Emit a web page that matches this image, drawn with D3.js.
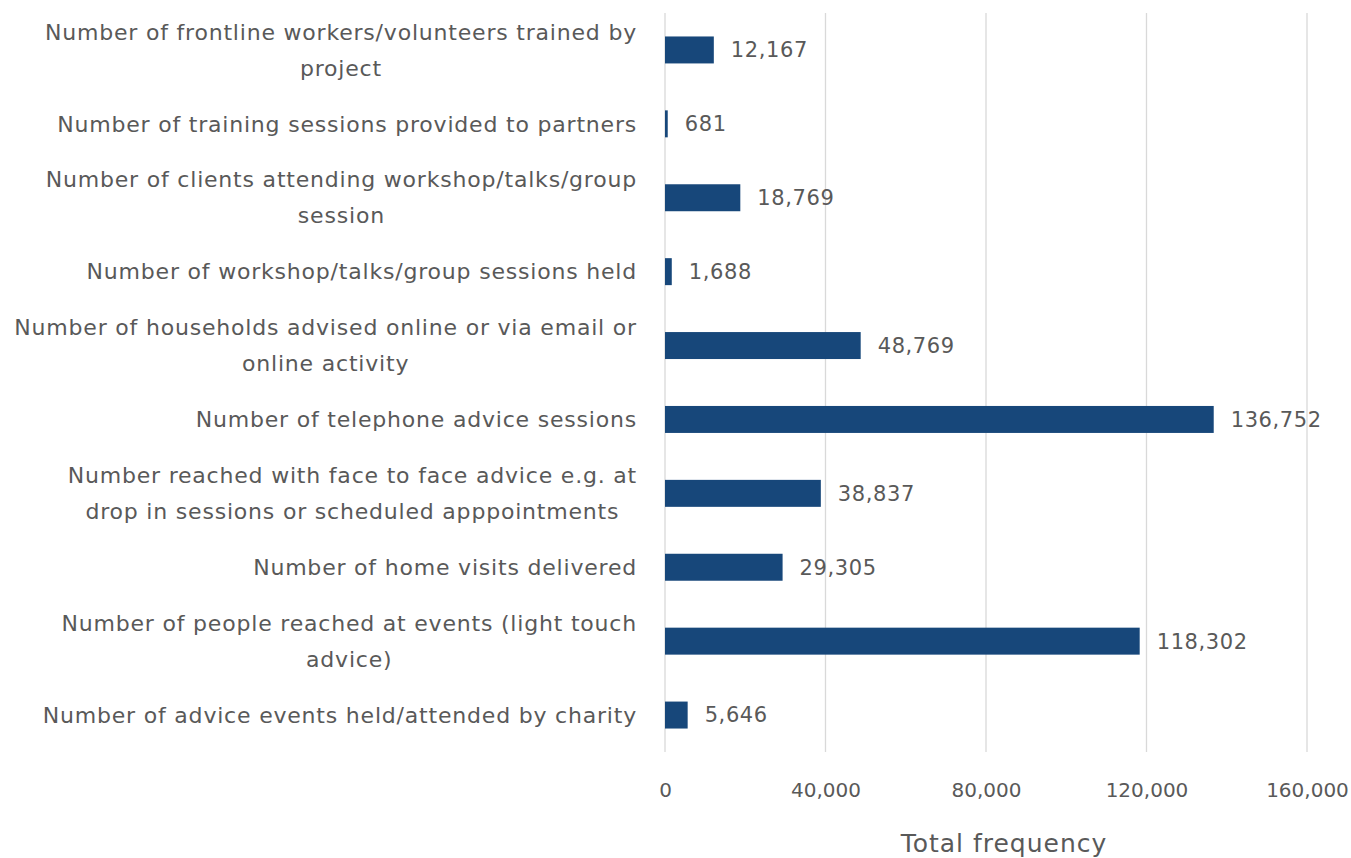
<!DOCTYPE html>
<html>
<head>
<meta charset="utf-8">
<script src="https://cdn.jsdelivr.net/npm/d3@7"></script>
<style>
  html, body { margin: 0; padding: 0; background: #fff; }
  svg { display: block; }
  text { font-family: "DejaVu Sans", sans-serif; fill: #595959; }
</style>
</head>
<body>
<svg id="chart" width="1351" height="858"></svg>
<script>
// Activity categories (line breaks mark where each label wraps)
const categories = [
  "Number of frontline workers/volunteers trained by\nproject",
  "Number of training sessions provided to partners",
  "Number of clients attending workshop/talks/group\nsession",
  "Number of workshop/talks/group sessions held",
  "Number of households advised online or via email or\nonline activity",
  "Number of telephone advice sessions",
  "Number reached with face to face advice e.g. at\ndrop in sessions or scheduled apppointments",
  "Number of home visits delivered",
  "Number of people reached at events (light touch\nadvice)",
  "Number of advice events held/attended by charity"
];
const totals = [12167, 681, 18769, 1688, 48769, 136752, 38837, 29305, 118302, 5646];
const xTicks = [0, 40000, 80000, 120000, 160000];
const xTitle = "Total frequency";

const svg = d3.select("#chart");
const plot = { left: 665, right: 1307, top: 13, bottom: 752 };
const barColor = "#17477a";
const labelSize = 22;
const numSize = 21;
const tickSize = 20;

const x = d3.scaleLinear().domain([0, 160000]).range([plot.left, plot.right]);
const y = d3.scaleBand().domain(d3.range(categories.length))
  .range([plot.top, plot.bottom]).paddingInner(0.635).paddingOuter(0.3175);

// vertical gridlines
svg.append("g").selectAll("line").data(xTicks).join("line")
  .attr("x1", d => x(d)).attr("x2", d => x(d))
  .attr("y1", plot.top).attr("y2", plot.bottom)
  .attr("stroke", "#d9d9d9").attr("stroke-width", 1.3);

// x axis tick labels
const fmt = d3.format(",");
const xAxis = d3.axisBottom(x).tickValues(xTicks).tickFormat(fmt).tickSize(0).tickPadding(0);
const gx = svg.append("g").attr("transform", `translate(0,${plot.bottom + 31})`).call(xAxis);
gx.select(".domain").remove();
gx.selectAll("text")
  .attr("font-size", tickSize)
  .attr("font-family", "DejaVu Sans, sans-serif")
  .attr("fill", "#595959");

// bars
svg.append("g").selectAll("rect").data(totals).join("rect")
  .attr("x", x(0))
  .attr("y", (d, i) => y(i))
  .attr("width", d => x(d) - x(0))
  .attr("height", y.bandwidth())
  .attr("fill", barColor);

// value labels
svg.append("g").selectAll("text").data(totals).join("text")
  .attr("x", d => x(d) + 17)
  .attr("y", (d, i) => y(i) + y.bandwidth() / 2)
  .attr("dy", "0.35em")
  .attr("font-size", numSize)
  .attr("letter-spacing", 0.6)
  .text(d => fmt(d));

// category labels: block right-aligned to the axis, lines centred within the block
const labelRight = 637;
const lineH = 36;
const gLab = svg.append("g");
categories.forEach((c, i) => {
  const lines = c.split("\n");
  const g = gLab.append("g");
  const texts = lines.map((ln, j) => g.append("text")
    .attr("font-size", labelSize)
    .attr("letter-spacing", 0.8)
    .attr("y", y(i) + y.bandwidth() / 2 + (j - (lines.length - 1) / 2) * lineH)
    .attr("dy", "0.35em")
    .attr("text-anchor", "middle")
    .text(ln));
  const maxW = d3.max(texts, t => t.node().getBBox().width);
  texts.forEach(t => t.attr("x", labelRight - maxW / 2));
});

// axis title
svg.append("text")
  .attr("x", 1004).attr("y", 843)
  .attr("dy", "0.35em")
  .attr("text-anchor", "middle")
  .attr("font-size", 25)
  .attr("letter-spacing", 1)
  .text(xTitle);
</script>
</body>
</html>
